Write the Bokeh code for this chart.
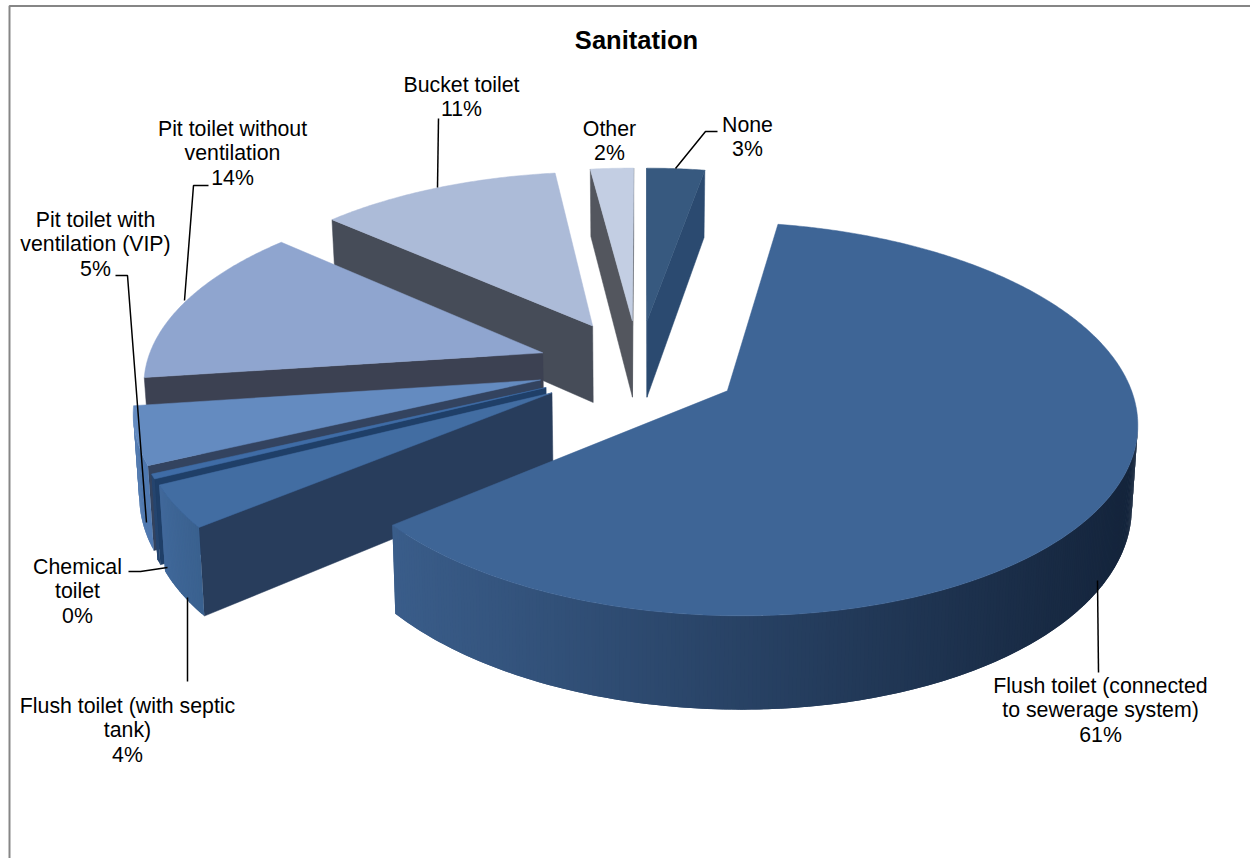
import numpy as np
from bokeh.plotting import figure
from bokeh.embed import file_html
from bokeh.resources import INLINE
from bokeh.core.properties import value

# Sanitation shares, clockwise from the first slice
categories = ["Flush toilet (connected to sewerage system)", "Flush toilet (with septic tank)",
              "Chemical toilet", "Pit toilet with ventilation (VIP)",
              "Pit toilet without ventilation", "Bucket toilet", "Other", "None"]
shares = [61.3, 3.55, 0.4, 4.85, 13.65, 11.45, 2.05, 2.75]
label_lines = [["Flush toilet (connected", "to sewerage system)"], ["Flush toilet (with septic", "tank)"],
               ["Chemical", "toilet"], ["Pit toilet with", "ventilation (VIP)"],
               ["Pit toilet without", "ventilation"], ["Bucket toilet"], ["Other"], ["None"]]

top_colors = ["#3e6596", "#426da2", "#3f6ca6", "#648bc0", "#8fa5cf", "#acbbd8", "#c3cee3", "#37597f"]
face_colors = ["#1d3350", "#283d5c", "#1f3f68", "#33435f", "#3c4152", "#464c58", "#53565e", "#2b4a70"]
wall_left = ["#3a5d8a", "#3a618f", "#25456f", "#5079b0", "#7e97c4", "#8b9ab8", "#53565e", "#2b4a70"]
wall_right = ["#14243b", "#40689a", "#25456f", "#4a73aa", "#7e97c4", "#8b9ab8", "#53565e", "#2b4a70"]

# Pie geometry: angles run clockwise from north on a tilted, exploded disc
START_ANGLE = 10.0
EXPLODE = 0.2546
CX, CY = 638.0, 366.0
SCALE_X, SCALE_Y = 397.0, 186.0
PERSPECTIVE = 0.14
THICKNESS = 79.0
TAPER = 0.012

# Drawing order, back to front
draw_order = [7, 6, 5, 4, 3, 2, 1, 0]

# Anchors for labels (centre x, first-line y) and leader polylines
label_pos = [(1100, 685), (127, 705), (77, 566), (95, 219), (232, 128), (461, 84), (609, 128), (747, 124)]
LINE_STEP = 24.6
leaders = [[(1097, 580), (1098, 672)], [(187, 597), (187, 681)], [(167, 567), (140, 571), (128, 571)],
           [(146, 522), (127, 275), (115, 275)], [(184, 300), (193, 185), (208, 185)],
           [(437, 187), (438, 118)], [], [(675, 168), (705, 131), (717, 131)]]


def project(x, y, z=0.0):
    w = 1 + PERSPECTIVE * y
    return (CX + SCALE_X * x / w * (1 - TAPER * z), CY - SCALE_Y * y / w + THICKNESS * z / w)


def mix(c1, c2, t):
    a = [int(c1[i:i + 2], 16) for i in (1, 3, 5)]
    b = [int(c2[i:i + 2], 16) for i in (1, 3, 5)]
    return "#%02x%02x%02x" % tuple(int(round(p + (q - p) * t)) for p, q in zip(a, b))


p = figure(width=1250, height=858, x_range=(0, 1250), y_range=(858, 0), output_backend="svg",
           toolbar_location=None, min_border=0, outline_line_color=None, background_fill_color="white")
p.axis.visible = False
p.grid.visible = False

# Chart frame: only the top and left edges fall inside the page
p.line([9, 9, 1250], [858, 5.5, 5.5], line_color="#868686", line_width=2)

total = sum(shares)
edges = START_ANGLE + np.concatenate([[0], np.cumsum(shares)]) * 360.0 / total


def front_facing(edge_a, edge_b, inside):
    ex, ey = edge_b[0] - edge_a[0], edge_b[1] - edge_a[1]
    return ex * (ex * (inside[1] - edge_a[1]) - ey * (inside[0] - edge_a[0])) < 0


for i in draw_order:
    a1, a2 = np.radians(edges[i]), np.radians(edges[i + 1])
    mid = (a1 + a2) / 2
    ox, oy = EXPLODE * np.sin(mid), EXPLODE * np.cos(mid)
    n = max(3, int((edges[i + 1] - edges[i]) * 2) + 1)
    angles = np.linspace(a1, a2, n)
    rim = [(ox + np.sin(t), oy + np.cos(t)) for t in angles]

    apex_top, apex_bot = project(ox, oy, 0), project(ox, oy, 1)
    rim_top = [project(u, v, 0) for u, v in rim]
    rim_bot = [project(u, v, 1) for u, v in rim]
    outline = [apex_top] + rim_top
    inside = (np.mean([q[0] for q in outline]), np.mean([q[1] for q in outline]))

    # Radial side faces, kept only when they turn towards the viewer
    for k_rim in (0, -1):
        if front_facing(apex_top, rim_top[k_rim], inside):
            quad = [apex_top, rim_top[k_rim], rim_bot[k_rim], apex_bot]
            p.patch([q[0] for q in quad], [q[1] for q in quad], fill_color=face_colors[i],
                    line_color=face_colors[i], line_width=0.5)

    # Curved outer wall: strips that face the camera, each overlapping the next to avoid seams
    xs, ys, cols = [], [], []
    for j in range(n - 1):
        (u, v), t_ang = rim[j], angles[j]
        if u * np.sin(t_ang) + (v + 1 / PERSPECTIVE) * np.cos(t_ang) >= 0:
            continue
        e = min(j + 2, n - 1)
        xs.append([rim_top[j][0], rim_top[e][0], rim_bot[e][0], rim_bot[j][0]])
        ys.append([rim_top[j][1], rim_top[e][1], rim_bot[e][1], rim_bot[j][1]])
        t = np.clip((rim_top[j][0] - 390) / (1136 - 390), 0, 1) if i == 0 else j / max(n - 2, 1)
        cols.append(mix(wall_left[i], wall_right[i], float(t)))
    if xs:
        p.patches(xs, ys, fill_color=cols, line_color=None)

    # Top face
    p.patch([q[0] for q in outline], [q[1] for q in outline], fill_color=top_colors[i],
            line_color=top_colors[i], line_width=0.5)

# Leader lines
for path in leaders:
    if path:
        p.line([q[0] for q in path], [q[1] for q in path], line_color="black", line_width=1.5)

# Category labels with their rounded shares
tx, ty, tt = [], [], []
for lines, (lx, ly), share in zip(label_lines, label_pos, shares):
    for row, text in enumerate(lines + [f"{round(share)}%"]):
        tx.append(lx)
        ty.append(ly + row * LINE_STEP)
        tt.append(text)
p.text(tx, ty, text=tt, text_align="center", text_baseline="middle", text_color="black",
       text_font=value("Liberation Sans"), text_font_size="21.3px")

p.text([636], [39.5], text=["Sanitation"], text_align="center", text_baseline="middle", text_color="black",
       text_font=value("Liberation Sans"), text_font_style="bold", text_font_size="25.5px")

open("out.html", "w").write(file_html(p, INLINE))
